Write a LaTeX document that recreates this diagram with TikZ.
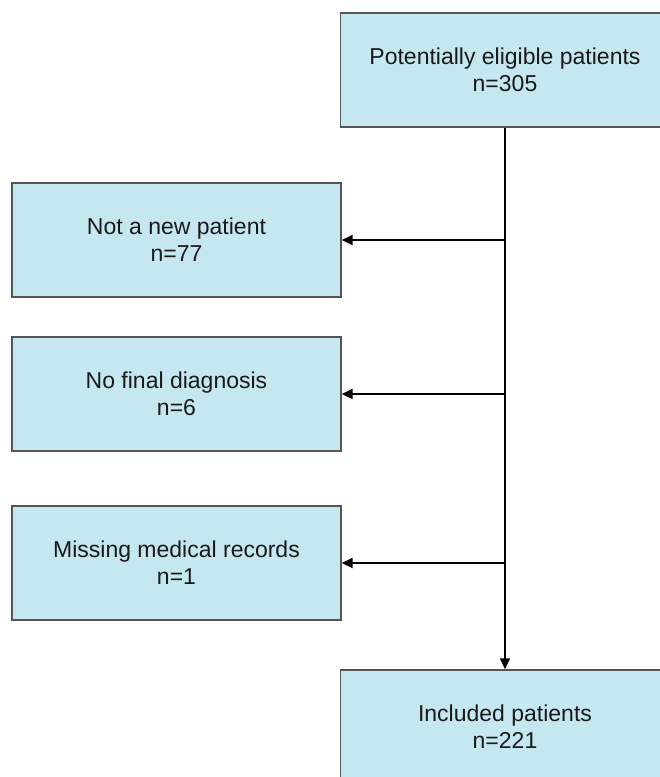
\documentclass[tikz,border=0pt]{standalone}
\usepackage{fontspec}
\setmainfont{Liberation Sans}
\usepackage{xcolor}
\usetikzlibrary{arrows.meta}
\definecolor{boxblue}{RGB}{197,232,240}
\definecolor{boxline}{RGB}{85,85,85}

\begin{document}
\begin{tikzpicture}[x=1pt, y=-1pt,
    box/.style={draw=boxline, line width=1.4pt, fill=boxblue, minimum width=329pt,
      minimum height=114pt, align=center, inner sep=0pt, text=black!90,
      font=\fontsize{23}{27}\selectfont},
    arr/.style={line width=1.8pt, -{Triangle[length=11pt, width=10pt]}}]
  \useasboundingbox (0,0) rectangle (660,777);
  \clip (0,0) rectangle (660,777);
  % main column
  \node [box] (elig) at (505,70) {Potentially eligible patients\\n=305};
  \node [box] (incl) at (505,727) {Included patients\\n=221};
  % exclusions
  \node [box] (nonew) at (176.5,240) {Not a new patient\\n=77};
  \node [box] (nodiag) at (176.5,394) {No final diagnosis\\n=6};
  \node [box] (norec) at (176.5,563) {Missing medical records\\n=1};
  \draw [arr] (elig.south) -- (incl.north);
  \foreach \n in {nonew,nodiag,norec}
    \draw [arr] (elig.south |- \n.east) -- (\n.east);
\end{tikzpicture}
\end{document}
